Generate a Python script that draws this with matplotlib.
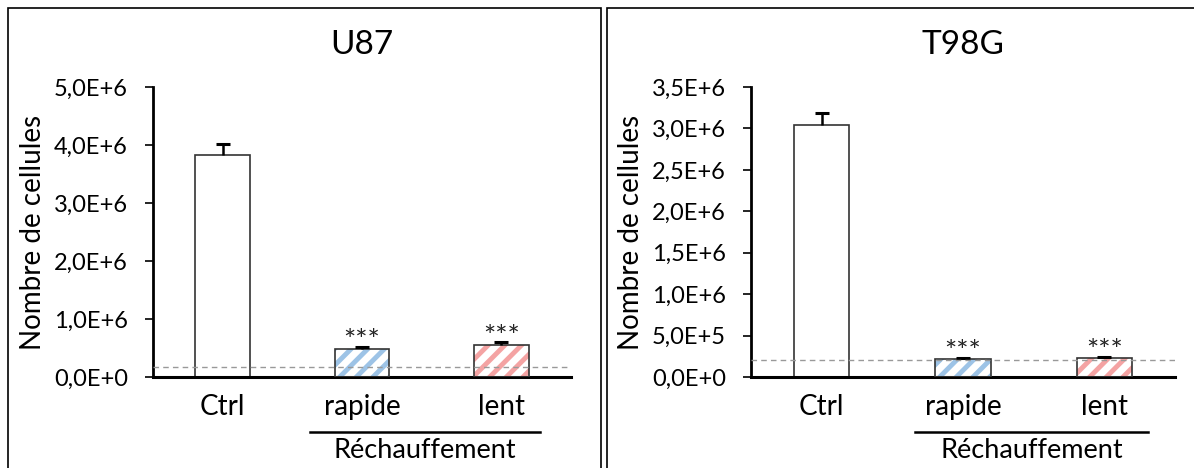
import matplotlib.pyplot as plt
import matplotlib.patches as patches
from matplotlib.ticker import FuncFormatter
import numpy as np

plt.rcParams['font.family'] = ['Lato', 'DejaVu Sans']
plt.rcParams['hatch.linewidth'] = 3.5

categories = ["Ctrl", "rapide", "lent"]
group_label = "Réchauffement"

u87_values = [3.83e6, 0.48e6, 0.55e6]
u87_errors = [0.19e6, 0.04e6, 0.05e6]
u87_baseline = 0.17e6
u87_ticks = [0, 1e6, 2e6, 3e6, 4e6, 5e6]

t98g_values = [3.04e6, 0.22e6, 0.235e6]
t98g_errors = [0.15e6, 0.01e6, 0.01e6]
t98g_baseline = 0.205e6
t98g_ticks = [0, 0.5e6, 1e6, 1.5e6, 2e6, 2.5e6, 3e6, 3.5e6]

stars = ["", "***", "***"]
hatch_colors = ["white", "#9DC3E6", "#F4A3A3"]


def sci_fmt(v, pos):
    if v == 0:
        return "0,0E+0"
    exp = int(np.floor(np.log10(abs(v))))
    mant = v / 10 ** exp
    return ("%.1f" % mant).replace(".", ",") + "E+%d" % exp


fig = plt.figure(figsize=(11.94, 4.68), dpi=100)

# panel frames
fig.add_artist(patches.Rectangle((8 / 1194, -0.05), 593 / 1194, 1 - 8 / 468 + 0.05,
                                 transform=fig.transFigure, fill=False, edgecolor="black", lw=1.2))
fig.add_artist(patches.Rectangle((607 / 1194, -0.05), 600 / 1194, 1 - 8 / 468 + 0.05,
                                 transform=fig.transFigure, fill=False, edgecolor="black", lw=1.2))

panels = [
    ("U87", u87_values, u87_errors, u87_baseline, u87_ticks, [153, 571], [310, 540]),
    ("T98G", t98g_values, t98g_errors, t98g_baseline, t98g_ticks, [751, 1175], [915, 1148]),
]

for title, vals, errs, base, ticks, xr, br in panels:
    ax = fig.add_axes([xr[0] / 1194, 1 - 377 / 468, (xr[1] - xr[0]) / 1194, 290 / 468])
    x = np.arange(len(categories))
    width = 0.39
    for i in range(len(categories)):
        if i == 0:
            ax.bar(x[i], vals[i], width, color="white", edgecolor="#333333", lw=1.2, zorder=2)
        else:
            ax.bar(x[i], vals[i], width, color="white", edgecolor=hatch_colors[i], hatch="//", lw=0, zorder=2)
            ax.bar(x[i], vals[i], width, color="none", edgecolor="#333333", lw=1.2, zorder=3)
        top = vals[i] + errs[i]
        ax.vlines(x[i], vals[i], top, color="black", lw=1.8, zorder=4)
        ax.hlines(top, x[i] - 0.05, x[i] + 0.05, color="black", lw=2.2, zorder=4)
        if stars[i]:
            ax.annotate(stars[i], (x[i], top), xytext=(0, -6), textcoords="offset points",
                        ha="center", va="bottom", fontsize=21, color="#222222")
    ax.axhline(base, color="#999999", lw=1, ls=(0, (4, 3)), zorder=5)
    ax.set_xlim(-0.5, 2.5)
    ax.set_ylim(0, ticks[-1])
    ax.set_yticks(ticks)
    ax.yaxis.set_major_formatter(FuncFormatter(sci_fmt))
    ax.set_xticks(x)
    ax.set_xticklabels(categories, fontsize=20)
    ax.tick_params(axis="x", length=0, pad=12)
    ax.tick_params(axis="y", length=6, width=1.2, labelsize=17, direction="out", pad=12)
    for s in ["top", "right"]:
        ax.spines[s].set_visible(False)
    ax.spines["left"].set_linewidth(2)
    ax.spines["bottom"].set_linewidth(2.2)
    ax.set_ylabel("Nombre de cellules", fontsize=20)
    ax.yaxis.set_label_coords(-107 / (xr[1] - xr[0]), 0.5)
    ax.set_title(title, fontsize=24, pad=24)
    fig.add_artist(plt.Line2D([br[0] / 1194, br[1] / 1194], [1 - 432 / 468] * 2,
                              transform=fig.transFigure, color="black", lw=1.8))
    fig.text((br[0] + br[1]) / 2 / 1194, 1 - 451 / 468, group_label, ha="center", va="center", fontsize=19.5)

fig.savefig("out.png", dpi=100)
